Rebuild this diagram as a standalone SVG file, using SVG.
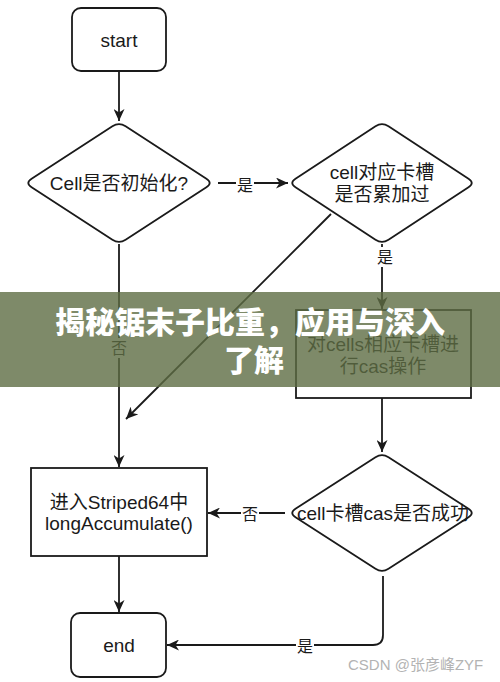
<svg xmlns="http://www.w3.org/2000/svg" width="500" height="682" viewBox="0 0 500 682">
<style>
.shape{fill:#ffffff;stroke:#1a1a1a;stroke-width:1.8}
.t{font-family:"Liberation Sans","Noto Sans CJK SC",Arial,sans-serif;font-size:19px;fill:#1a1a1a;text-anchor:middle}
.lbl{font-family:"Liberation Sans","Noto Sans CJK SC",sans-serif;font-size:16px;fill:#1a1a1a;text-anchor:middle}
.edge{fill:none;stroke:#1a1a1a;stroke-width:1.8}
.lbg{fill:#ffffff}
.title{font-family:"Noto Sans CJK SC",sans-serif;font-weight:900;font-size:30px;fill:#ffffff;text-anchor:middle}
.wm{font-family:"Liberation Sans","Noto Sans CJK SC",sans-serif;font-size:15px;fill:#b3b3b3}
</style>
<defs>
<marker id="arr" markerUnits="userSpaceOnUse" markerWidth="13" markerHeight="11" refX="12" refY="5.5" orient="auto">
<path d="M0,0 L12,5.5 L0,11 L3.5,5.5 Z" fill="#1a1a1a"/>
</marker>
</defs>
<rect width="500" height="682" fill="#ffffff"/>
<g id="connectors">
<line class="edge" x1="119" y1="71" x2="119" y2="121" marker-end="url(#arr)"/>
<line class="edge" x1="218" y1="183" x2="288" y2="183" marker-end="url(#arr)"/>
<rect class="lbg" x="236" y="174" width="18" height="20"/>
<text class="lbl" x="245" y="191">是</text>
<line class="edge" x1="331" y1="214" x2="126" y2="419" marker-end="url(#arr)"/>
<line class="edge" x1="382" y1="244" x2="382" y2="309" marker-end="url(#arr)"/>
<rect class="lbg" x="376" y="247" width="18" height="20"/>
<text class="lbl" x="385" y="263">是</text>
<line class="edge" x1="119" y1="244" x2="119" y2="467" marker-end="url(#arr)"/>
<rect class="lbg" x="110" y="338" width="18" height="20"/>
<text class="lbl" x="119" y="354">否</text>
<line class="edge" x1="382" y1="398" x2="382" y2="452" marker-end="url(#arr)"/>
<line class="edge" x1="285" y1="513" x2="208" y2="513" marker-end="url(#arr)"/>
<rect class="lbg" x="241" y="504" width="18" height="20"/>
<text class="lbl" x="250" y="520">否</text>
<line class="edge" x1="119" y1="556" x2="119" y2="612" marker-end="url(#arr)"/>
<path class="edge" d="M383,576 L383,635 Q383,645 373,645 L167,645" marker-end="url(#arr)"/>
<rect class="lbg" x="296" y="636" width="18" height="20"/>
<text class="lbl" x="305" y="652">是</text>
</g>
<g id="start">
<rect class="shape" x="72" y="8" width="94" height="63" rx="9"/>
<text class="t" x="119" y="47">start</text>
</g>
<g id="cellInit">
<path class="shape" d="M112.4,126.3 Q119,122 125.6,126.3 L206.4,178.7 Q213,183 206.4,187.3 L125.6,239.7 Q119,244 112.4,239.7 L31.6,187.3 Q25,183 31.6,178.7 Z"/>
<text class="t" x="119" y="190">Cell是否初始化?</text>
</g>
<g id="cellAdded">
<path class="shape" d="M375.5,126.3 Q382,122 388.5,126.3 L468.5,178.7 Q475,183 468.5,187.3 L388.5,239.7 Q382,244 375.5,239.7 L295.5,187.3 Q289,183 295.5,178.7 Z"/>
<text class="t" x="382" y="179">cell对应卡槽</text>
<text class="t" x="382" y="201">是否累加过</text>
</g>
<g id="casOp">
<rect class="shape" x="296" y="310" width="175" height="88"/>
<text class="t" x="383" y="351">对cells相应卡槽进</text>
<text class="t" x="383" y="373">行cas操作</text>
</g>
<g id="casOk">
<path class="shape" d="M375.5,457.2 Q382,453 388.5,457.2 L468.5,508.8 Q475,513 468.5,517.2 L388.5,568.8 Q382,573 375.5,568.8 L295.5,517.2 Q289,513 295.5,508.8 Z"/>
<text class="t" x="383" y="520">cell卡槽cas是否成功</text>
</g>
<g id="longAcc">
<rect class="shape" x="31" y="468" width="176" height="88"/>
<text class="t" x="119" y="509">进入Striped64中</text>
<text class="t" x="119" y="530">longAccumulate()</text>
</g>
<g id="end">
<rect class="shape" x="71" y="613" width="95" height="64" rx="9"/>
<text class="t" x="119" y="652">end</text>
</g>
<g id="banner">
<rect x="0" y="292" width="500" height="95" fill="#5e6d44" fill-opacity="0.8"/>
<text class="title" x="250" y="333">揭秘锯末子比重，应用与深入</text>
<text class="title" x="254" y="371">了解</text>
</g>
<text class="wm" x="348" y="670">CSDN @张彦峰ZYF</text>
</svg>
